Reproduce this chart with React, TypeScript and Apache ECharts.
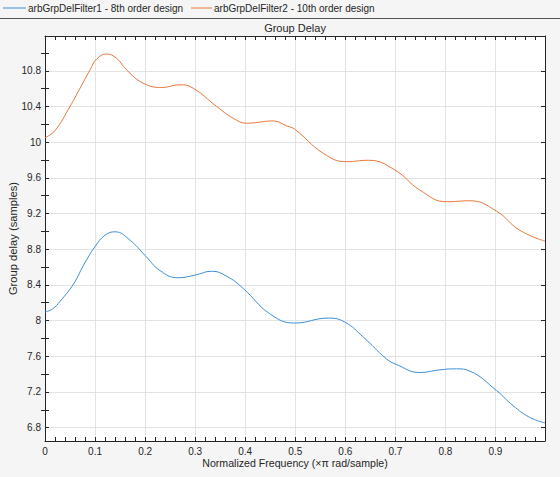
import React, { useEffect, useRef } from "react";
import * as echarts from "echarts";

const seriesNames = [
  "arbGrpDelFilter1 - 8th order design",
  "arbGrpDelFilter2 - 10th order design",
];

const freq1 = [0, 0.015, 0.03, 0.057, 0.077, 0.1, 0.12, 0.14, 0.17, 0.2, 0.23, 0.266, 0.3, 0.333, 0.363, 0.396, 0.449, 0.499, 0.566, 0.599, 0.636, 0.682, 0.702, 0.749, 0.789, 0.822, 0.849, 0.902, 0.935, 0.968, 0.999];
const delay1 = [8.096, 8.13, 8.215, 8.41, 8.62, 8.83, 8.957, 8.995, 8.9, 8.73, 8.56, 8.48, 8.51, 8.553, 8.497, 8.36, 8.077, 7.972, 8.028, 7.983, 7.815, 7.572, 7.508, 7.418, 7.448, 7.459, 7.433, 7.216, 7.047, 6.916, 6.853];

const freq2 = [0, 0.02, 0.05, 0.07, 0.09, 0.103, 0.123, 0.143, 0.163, 0.196, 0.233, 0.27, 0.296, 0.343, 0.376, 0.403, 0.456, 0.483, 0.499, 0.556, 0.602, 0.646, 0.699, 0.749, 0.802, 0.849, 0.902, 0.948, 0.999];
const delay2 = [10.05, 10.13, 10.4, 10.605, 10.811, 10.93, 10.988, 10.94, 10.81, 10.662, 10.613, 10.643, 10.605, 10.4, 10.268, 10.212, 10.238, 10.182, 10.145, 9.875, 9.781, 9.797, 9.688, 9.463, 9.332, 9.343, 9.227, 9.014, 8.89];

const yMajorTicks = [6.8, 7.2, 7.6, 8, 8.4, 8.8, 9.2, 9.6, 10, 10.4, 10.8];
const yMinorTicks = [7.0, 7.4, 7.8, 8.2, 8.6, 9.0, 9.4, 9.8, 10.2, 10.6, 11.0];

const X_MIN = 0;
const X_MAX = 0.999;
const Y_MIN = 6.65;
const Y_MAX = 11.19;

const AXIS_COLOR = "#262626";
const GRID_COLOR = "#e3e3e3";
const FONT = "'Liberation Sans', Arial, Helvetica, sans-serif";
const COLORS = ["#3d8fd7", "#e8763a"];

export default function App() {
  const ref = useRef<HTMLDivElement>(null);

  useEffect(() => {
    if (!ref.current) return;
    const chart = echarts.init(ref.current, null, { renderer: "svg" });

    const tickBase = {
      inside: true,
      length: 4,
      lineStyle: { color: AXIS_COLOR, width: 1 },
    };

    const xCommon = {
      type: "value" as const,
      min: X_MIN,
      max: X_MAX,
      interval: 0.1,
      axisLine: { show: true, onZero: false, lineStyle: { color: AXIS_COLOR, width: 1 } },
      axisTick: tickBase,
      minorTick: { show: true, splitNumber: 5, length: 4, lineStyle: { color: AXIS_COLOR, width: 1 } },
    };

    const yCommon = {
      type: "value" as const,
      min: Y_MIN,
      max: Y_MAX,
    };

    const legendStyle = { fontSize: 10, fill: AXIS_COLOR, fontFamily: FONT };

    chart.setOption({
      animation: false,
      backgroundColor: "#f5f5f5",
      color: COLORS,
      textStyle: { fontFamily: FONT },
      title: {
        text: "Group Delay",
        left: 295,
        top: 22.5,
        textAlign: "center",
        padding: 0,
        textStyle: { fontSize: 11, fontWeight: "normal", color: AXIS_COLOR, fontFamily: FONT },
      },
      graphic: [
        {
          type: "line",
          shape: { x1: 0, y1: 18.5, x2: 560, y2: 18.5 },
          style: { stroke: "#555555", lineWidth: 1 },
          silent: true,
        },
        {
          type: "line",
          shape: { x1: 3, y1: 8, x2: 26, y2: 8 },
          style: { stroke: COLORS[0], lineWidth: 1 },
          silent: true,
        },
        {
          type: "text",
          x: 28,
          y: 8,
          style: { ...legendStyle, text: seriesNames[0], verticalAlign: "middle", align: "left" },
          silent: true,
        },
        {
          type: "line",
          shape: { x1: 191, y1: 8, x2: 212, y2: 8 },
          style: { stroke: COLORS[1], lineWidth: 1 },
          silent: true,
        },
        {
          type: "text",
          x: 214,
          y: 8,
          style: { ...legendStyle, text: seriesNames[1], verticalAlign: "middle", align: "left" },
          silent: true,
        },
      ],
      grid: {
        left: 45,
        right: 15,
        top: 36,
        bottom: 36,
        containLabel: false,
        outerBoundsMode: "none",
        backgroundColor: "#ffffff",
        show: true,
        borderWidth: 0,
      },
      xAxis: [
        {
          ...xCommon,
          position: "bottom",
          name: "Normalized Frequency (×π rad/sample)",
          nameLocation: "middle",
          nameGap: 16,
          nameMoveOverlap: false,
          nameTextStyle: { fontSize: 10.6, color: AXIS_COLOR, fontFamily: FONT },
          axisLabel: {
            show: true,
            margin: 5,
            fontSize: 10,
            color: AXIS_COLOR,
            fontFamily: FONT,
            showMaxLabel: false,
            formatter: (v: number) => (v > 0.995 ? "" : String(Math.round(v * 10) / 10)),
          },
          splitLine: { show: true, lineStyle: { color: GRID_COLOR, width: 1 } },
        },
        {
          ...xCommon,
          position: "top",
          axisLabel: { show: false },
          splitLine: { show: false },
        },
      ],
      yAxis: [
        {
          ...yCommon,
          position: "left",
          name: "Group delay (samples)",
          nameLocation: "middle",
          nameGap: 27,
          nameMoveOverlap: false,
          nameTextStyle: { fontSize: 11.2, color: AXIS_COLOR, fontFamily: FONT },
          axisLine: { show: true, onZero: false, lineStyle: { color: AXIS_COLOR, width: 1 } },
          axisTick: { ...tickBase, customValues: yMajorTicks },
          axisLabel: {
            show: true,
            margin: 4,
            fontSize: 10,
            color: AXIS_COLOR,
            fontFamily: FONT,
            customValues: yMajorTicks,
            formatter: (v: number) => String(Math.round(v * 10) / 10),
          },
          splitLine: { show: true, lineStyle: { color: GRID_COLOR, width: 1 } },
        },
        {
          ...yCommon,
          position: "right",
          axisLine: { show: true, onZero: false, lineStyle: { color: AXIS_COLOR, width: 1 } },
          axisTick: { ...tickBase, customValues: yMajorTicks },
          axisLabel: { show: false, customValues: yMajorTicks },
          splitLine: { show: false },
        },
        {
          ...yCommon,
          position: "left",
          axisLine: { show: false },
          axisTick: { ...tickBase, customValues: yMinorTicks },
          axisLabel: { show: false, customValues: yMinorTicks },
          splitLine: { show: false },
        },
        {
          ...yCommon,
          position: "right",
          axisLine: { show: false },
          axisTick: { ...tickBase, customValues: yMinorTicks },
          axisLabel: { show: false, customValues: yMinorTicks },
          splitLine: { show: false },
        },
      ],
      series: [
        {
          name: seriesNames[0],
          type: "line",
          xAxisIndex: 0,
          yAxisIndex: 0,
          data: freq1.map((f, i) => [f, delay1[i]]),
          showSymbol: false,
          smooth: 0.45,
          lineStyle: { width: 1, color: COLORS[0] },
          itemStyle: { color: COLORS[0] },
        },
        {
          name: seriesNames[1],
          type: "line",
          xAxisIndex: 0,
          yAxisIndex: 0,
          data: freq2.map((f, i) => [f, delay2[i]]),
          showSymbol: false,
          smooth: 0.45,
          lineStyle: { width: 1, color: COLORS[1] },
          itemStyle: { color: COLORS[1] },
        },
      ],
    });

    return () => {
      chart.dispose();
    };
  }, []);

  return (
    <div
      ref={ref}
      style={{ position: "fixed", left: 0, top: 0, width: 560, height: 477 }}
    />
  );
}
